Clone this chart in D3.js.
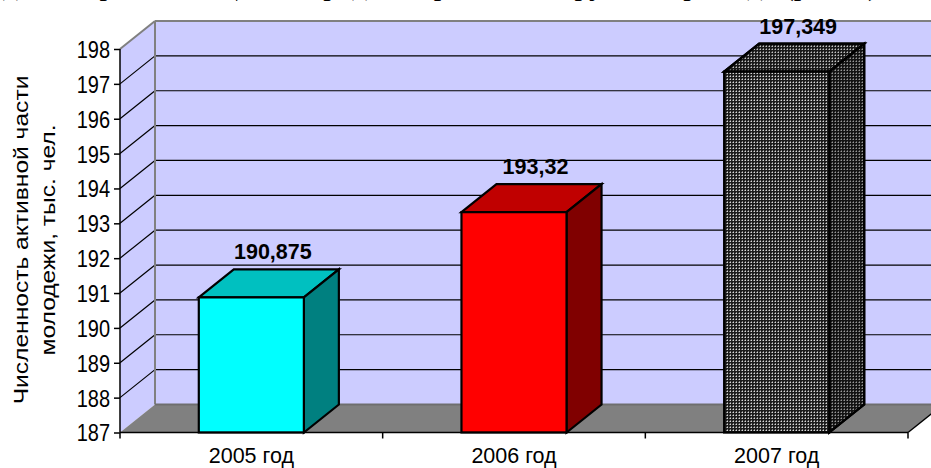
<!DOCTYPE html>
<html><head><meta charset="utf-8">
<script src="https://cdn.jsdelivr.net/npm/d3@7"></script>
<style>
html,body{margin:0;padding:0;background:#fff;}
svg{display:block;}
text{font-family:Arial,"Liberation Sans",sans-serif;}
</style></head>
<body>
<svg id="chart" width="931" height="468"></svg>
<script>
// ---- data ----
const categories = ["2005 год", "2006 год", "2007 год"];
const values = [190.875, 193.32, 197.349];
const valueLabels = ["190,875", "193,32", "197,349"];
const yTicks = [187, 188, 189, 190, 191, 192, 193, 194, 195, 196, 197, 198];
const yTitleLines = ["Численность активной части", "молодежи, тыс. чел."];
const clippedHeading = "молодежи, проживающей в городе и в районах округа за три года (рис. 3)";

(function () {
// ---- layout ----
const svg = d3.select("#chart");
const plotLeft = 120, plotRight = 908, plotBottom = 432.5, plotTop = 49;
const dx = 35, dy = -28;

const x = d3.scaleBand().domain(categories).range([plotLeft, plotRight])
  .paddingInner(0.6).paddingOuter(0.3);
const y = d3.scaleLinear().domain([yTicks[0], yTicks[yTicks.length - 1]]).range([plotBottom, plotTop]);
const y0 = y(yTicks[0]), yTop = y(yTicks[yTicks.length - 1]);

const defs = svg.append("defs");
const pat = defs.append("pattern").attr("id", "dots").attr("patternUnits", "userSpaceOnUse")
  .attr("width", 3).attr("height", 3);
pat.append("rect").attr("width", 3).attr("height", 3).attr("fill", "#1c1c1c");
pat.append("rect").attr("x", 1).attr("y", 1).attr("width", 1).attr("height", 1).attr("fill", "#d8d8d8");
pat.append("rect").attr("x", 0).attr("y", 1).attr("width", 1).attr("height", 1).attr("fill", "#7a7a7a");
pat.append("rect").attr("x", 1).attr("y", 0).attr("width", 1).attr("height", 1).attr("fill", "#7a7a7a");

// clipped heading from the surrounding text (only its lowest part is inside the picture)
svg.append("text").attr("x", 878).attr("y", -5).attr("text-anchor", "end")
  .style("font-family", "'Liberation Serif','Times New Roman',serif").style("font-size", "30px")
  .attr("fill", "#000").text(clippedHeading);

// ---- walls ----
const wallFill = "#CCCCFF", edgeGray = "#808080";
svg.append("rect").attr("x", plotLeft + dx).attr("y", yTop + dy)
  .attr("width", 960 - plotLeft - dx).attr("height", y0 - yTop).attr("fill", wallFill);
svg.append("polygon").attr("points", [[plotLeft, y0], [plotLeft, yTop], [plotLeft + dx, yTop + dy], [plotLeft + dx, y0 + dy]].join(" "))
  .attr("fill", wallFill);

// gridlines
const grid = svg.append("g");
yTicks.slice(1).forEach(t => {
  const isTop = t === yTicks[yTicks.length - 1];
  const c = isTop ? edgeGray : "#000";
  const w = isTop ? 2 : 1.2;
  grid.append("line").attr("x1", plotLeft + dx).attr("x2", 960).attr("y1", y(t) + dy).attr("y2", y(t) + dy)
    .attr("stroke", c).attr("stroke-width", w);
  grid.append("line").attr("x1", plotLeft).attr("y1", y(t)).attr("x2", plotLeft + dx).attr("y2", y(t) + dy)
    .attr("stroke", c).attr("stroke-width", w);
});
svg.append("line").attr("x1", plotLeft + dx).attr("x2", plotLeft + dx).attr("y1", yTop + dy).attr("y2", y0 + dy)
  .attr("stroke", edgeGray).attr("stroke-width", 2);

// floor
svg.append("polygon").attr("points", [[plotLeft, y0], [plotRight, y0], [plotRight + dx, y0 + dy], [plotLeft + dx, y0 + dy]].join(" "))
  .attr("fill", "#808080");
svg.append("line").attr("x1", plotLeft + dx).attr("x2", 960).attr("y1", y0 + dy).attr("y2", y0 + dy)
  .attr("stroke", "#6e6e6e").attr("stroke-width", 2);
svg.append("line").attr("x1", plotRight).attr("y1", y0).attr("x2", plotRight + dx).attr("y2", y0 + dy)
  .attr("stroke", "#000").attr("stroke-width", 1.5);

// ---- bars ----
const faceColors = [
  { front: "#00FFFF", top: "#00C0C0", side: "#008080" },
  { front: "#FF0000", top: "#C00000", side: "#800000" },
  { front: "url(#dots)", top: "url(#dots)", side: "url(#dots)", shade: true }
];
const bw = x.bandwidth();
const bars = svg.append("g");
categories.forEach((c, i) => {
  const x0 = x(c), yt = y(values[i]), col = faceColors[i];
  const g = bars.append("g").attr("stroke", "#000").attr("stroke-width", 2.2).attr("stroke-linejoin", "miter");
  const topPts = [[x0, yt], [x0 + dx, yt + dy], [x0 + bw + dx, yt + dy], [x0 + bw, yt]].join(" ");
  const sidePts = [[x0 + bw, yt], [x0 + bw + dx, yt + dy], [x0 + bw + dx, y0 + dy], [x0 + bw, y0]].join(" ");
  g.append("polygon").attr("points", topPts).attr("fill", col.top);
  g.append("polygon").attr("points", sidePts).attr("fill", col.side);
  if (col.shade) {
    g.append("polygon").attr("points", sidePts).attr("fill", "rgba(0,0,0,0.3)").attr("stroke", "none");
    g.append("polygon").attr("points", topPts).attr("fill", "rgba(0,0,0,0.1)").attr("stroke", "none");
    g.append("polygon").attr("points", sidePts).attr("fill", "none");
    g.append("polygon").attr("points", topPts).attr("fill", "none");
  }
  g.append("rect").attr("x", x0).attr("y", yt).attr("width", bw).attr("height", y0 - yt).attr("fill", col.front);
  svg.append("text").attr("x", x0 + bw / 2 + dx / 2 + 4).attr("y", yt + dy - 10)
    .attr("text-anchor", "middle").style("font-weight", "bold").style("font-size", "21.5px")
    .attr("fill", "#000").text(valueLabels[i]);
});

// ---- axes ----
const yAxis = svg.append("g").attr("transform", `translate(${plotLeft},0)`)
  .call(d3.axisLeft(y).tickValues(yTicks).tickSize(6).tickPadding(4).tickFormat(d3.format("d")));
yAxis.select(".domain").attr("stroke", "#000").attr("stroke-width", 1.5).attr("d", `M0,${plotTop}V${plotBottom}`);
yAxis.selectAll(".tick line").attr("stroke", "#000").attr("stroke-width", 1.5);
yAxis.selectAll(".tick text").style("font-size", "20px").attr("fill", "#000")
  .attr("x", -10).attr("y", 0).attr("dy", "0.36em").attr("transform", "scale(1,1.17)");

// x axis: labels via axisBottom, boundary ticks separately
const xAxis = svg.append("g").attr("transform", `translate(0,${y0})`)
  .call(d3.axisBottom(x).tickSize(0).tickPadding(15));
xAxis.select(".domain").attr("stroke", "#000").attr("stroke-width", 1.5).attr("d", `M${plotLeft},0H${plotRight}`);
xAxis.selectAll(".tick text").style("font-size", "21.5px").attr("fill", "#000");
const bounds = categories.map(c => x(c) - x.step() * x.paddingOuter()).concat([plotRight]);
svg.append("g").selectAll("line").data(bounds).join("line")
  .attr("x1", d => d).attr("x2", d => d).attr("y1", y0).attr("y2", y0 + 6)
  .attr("stroke", "#000").attr("stroke-width", 1.5);

// y title
const yTitle = svg.append("g");
const titleX = [28, 55];
yTitleLines.forEach((t, i) => {
  yTitle.append("text").attr("transform", `translate(${titleX[i]},240) rotate(-90) scale(1.2,1)`)
    .attr("text-anchor", "middle").style("font-size", "20.5px").attr("fill", "#000").text(t);
});
})();
</script>
</body></html>
